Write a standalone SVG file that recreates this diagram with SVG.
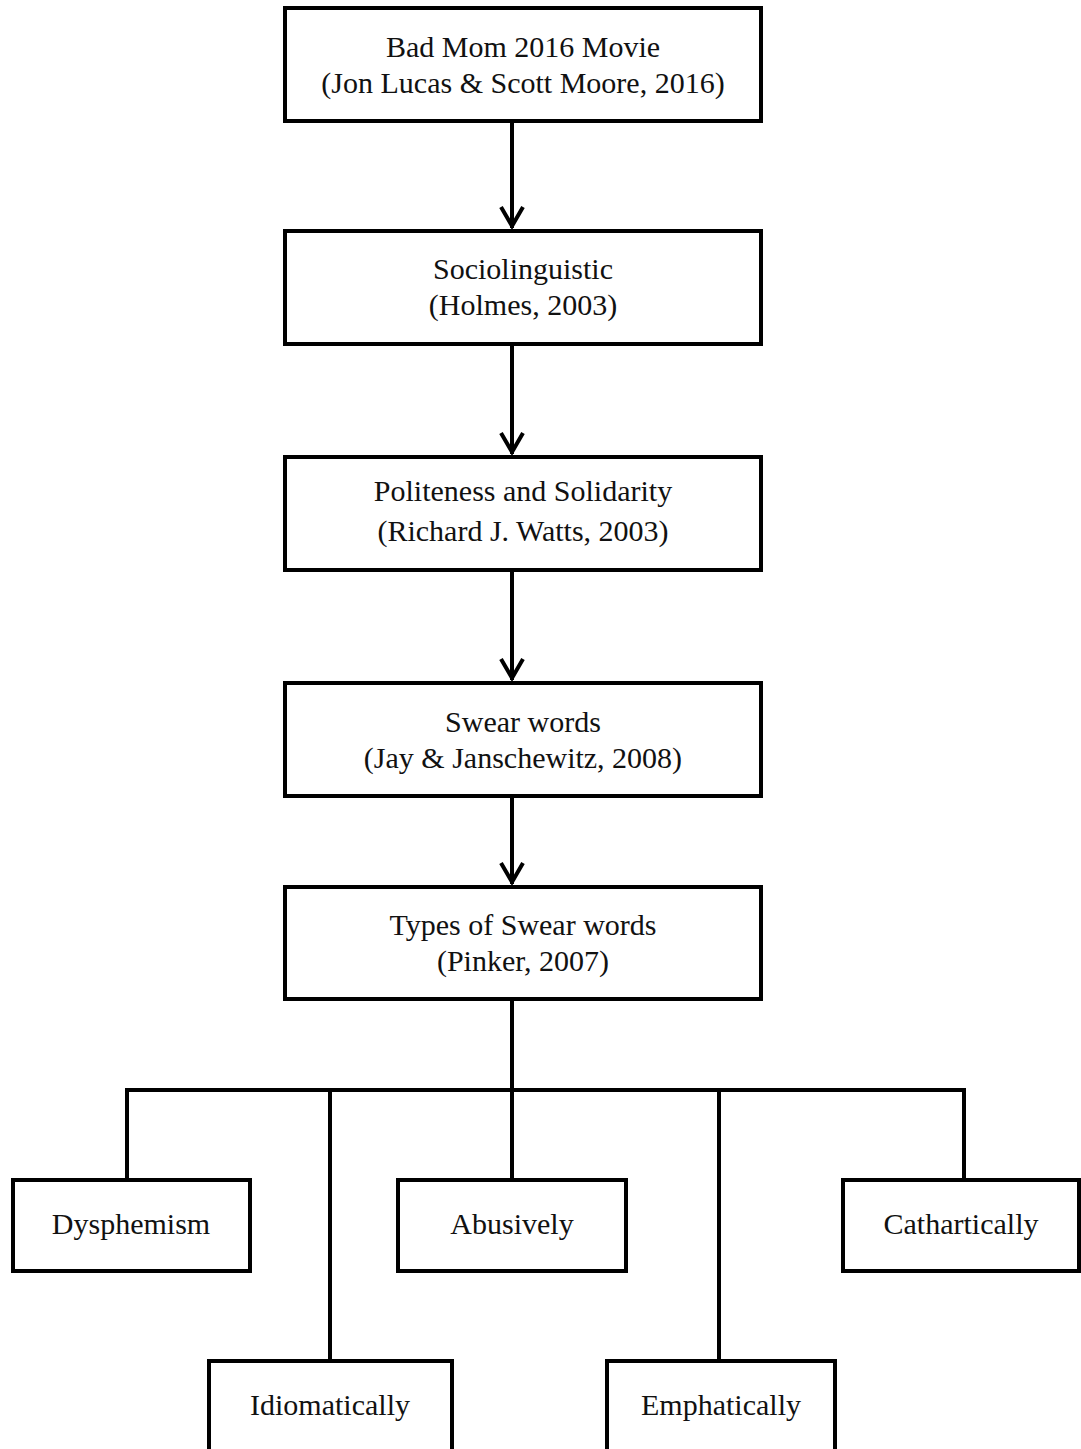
<svg xmlns="http://www.w3.org/2000/svg" width="1081" height="1449" viewBox="0 0 1081 1449">
<defs>
<style>
.box{fill:#fff;stroke:#000;stroke-width:4}
.t{font-family:"Times New Roman","Liberation Serif","DejaVu Serif",serif;font-size:30px;fill:#111;text-anchor:middle}
.ln{stroke:#000;stroke-width:4;fill:none}
.ah{stroke:#000;stroke-width:4;fill:none;stroke-linejoin:miter}
</style>
</defs>
<rect width="1081" height="1449" fill="#fff"/>
<g id="connectors">
<line class="ln" x1="512" y1="121" x2="512" y2="228"/>
<path class="ah" d="M501,207 L512,226 L523,207"/>
<line class="ln" x1="512" y1="344" x2="512" y2="454"/>
<path class="ah" d="M501,433 L512,452 L523,433"/>
<line class="ln" x1="512" y1="570" x2="512" y2="680"/>
<path class="ah" d="M501,659 L512,678 L523,659"/>
<line class="ln" x1="512" y1="796" x2="512" y2="884"/>
<path class="ah" d="M501,863 L512,882 L523,863"/>
<line class="ln" x1="512" y1="999" x2="512" y2="1180"/>
<polyline class="ln" points="127,1180 127,1090 964,1090 964,1180"/>
<line class="ln" x1="330" y1="1090" x2="330" y2="1361"/>
<line class="ln" x1="719" y1="1090" x2="719" y2="1361"/>
</g>
<g id="n1"><rect class="box" x="285" y="8" width="476" height="113"/><text class="t" x="523" y="57">Bad Mom 2016 Movie</text><text class="t" x="523" y="93">(Jon Lucas &amp; Scott Moore, 2016)</text></g>
<g id="n2"><rect class="box" x="285" y="231" width="476" height="113"/><text class="t" x="523" y="279">Sociolinguistic</text><text class="t" x="523" y="315">(Holmes, 2003)</text></g>
<g id="n3"><rect class="box" x="285" y="457" width="476" height="113"/><text class="t" x="523" y="501">Politeness and Solidarity</text><text class="t" x="523" y="541">(Richard J. Watts, 2003)</text></g>
<g id="n4"><rect class="box" x="285" y="683" width="476" height="113"/><text class="t" x="523" y="732">Swear words</text><text class="t" x="523" y="768">(Jay &amp; Janschewitz, 2008)</text></g>
<g id="n5"><rect class="box" x="285" y="887" width="476" height="112"/><text class="t" x="523" y="935">Types of Swear words</text><text class="t" x="523" y="971">(Pinker, 2007)</text></g>
<g id="n6"><rect class="box" x="13" y="1180" width="237" height="91"/><text class="t" x="131" y="1234">Dysphemism</text></g>
<g id="n7"><rect class="box" x="398" y="1180" width="228" height="91"/><text class="t" x="512" y="1234">Abusively</text></g>
<g id="n8"><rect class="box" x="843" y="1180" width="236" height="91"/><text class="t" x="961" y="1234">Cathartically</text></g>
<g id="n9"><rect class="box" x="209" y="1361" width="243" height="100"/><text class="t" x="330" y="1415">Idiomatically</text></g>
<g id="n10"><rect class="box" x="607" y="1361" width="228" height="100"/><text class="t" x="721" y="1415">Emphatically</text></g>
</svg>
